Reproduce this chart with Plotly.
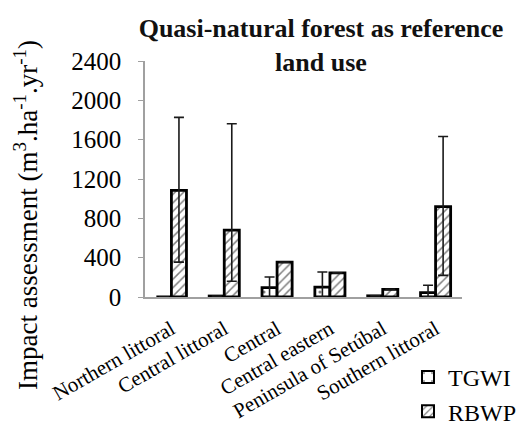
import plotly.graph_objects as go

# Regions (x categories)
regions = ["Northern littoral", "Central littoral", "Central", "Central eastern",
           "Peninsula of Setúbal", "Southern littoral"]

# TGWI impact and its error bounds
tgwi = [0, 10, 95, 100, 12, 45]
tgwi_err_plus = [0, 0, 108, 155, 0, 75]
tgwi_err_minus = [0, 0, 95, 100, 0, 45]

# RBWP impact and its error bounds
rbwp = [1085, 680, 355, 245, 78, 920]
rbwp_err_plus = [742, 1082, 0, 0, 0, 712]
rbwp_err_minus = [730, 520, 0, 0, 0, 700]

y_ticks = [0, 400, 800, 1200, 1600, 2000, 2400]
y_title = "Impact assessment (m<sup>3</sup>.ha<sup>-1</sup>.yr<sup>-1</sup>)"

FONT = "Liberation Serif, Times New Roman, serif"
W, H = 525, 425
L, R, T, B = 145, 63, 61, 128
PW, PH = W - L - R, H - T - B

fig = go.Figure()
fig.add_trace(go.Bar(
    name="TGWI", x=regions, y=tgwi,
    marker=dict(color="white", line=dict(color="black", width=2.8),
                pattern=dict(shape=".", size=14, solidity=0.04, fgcolor="black", bgcolor="white")),
    error_y=dict(type="data", symmetric=False, array=tgwi_err_plus, arrayminus=tgwi_err_minus,
                 color="#1a1a1a", thickness=1.6, width=5),
))
fig.add_trace(go.Bar(
    name="RBWP", x=regions, y=rbwp,
    marker=dict(color="white", line=dict(color="black", width=2.8),
                pattern=dict(shape="/", size=6, solidity=0.25, fgcolor="black", bgcolor="white")),
    error_y=dict(type="data", symmetric=False, array=rbwp_err_plus, arrayminus=rbwp_err_minus,
                 color="#1a1a1a", thickness=1.6, width=5),
))

# Vertical axis title, drawn as a rotated annotation so it can sit lower than the axis centre
fig.add_annotation(
    text=y_title, textangle=-90, showarrow=False,
    xref="paper", yref="paper",
    x=(26 - L) / PW, y=(H - B - 215) / PH,
    xanchor="center", yanchor="middle",
    font=dict(family=FONT, size=27, color="black"),
)

fig.update_layout(
    width=W, height=H,
    margin=dict(l=L, r=R, t=T, b=B, autoexpand=False),
    paper_bgcolor="white", plot_bgcolor="white",
    barmode="group", bargap=0.43, bargroupgap=0,
    font=dict(family=FONT, color="black", size=20),
    title=dict(text="<b>Quasi-natural forest as reference<br>land use</b>",
               x=321 / W, xanchor="center", xref="container",
               y=1 - 37 / H, yanchor="top", yref="container",
               font=dict(family=FONT, size=26, color="#111111")),
    showlegend=True,
    legend=dict(x=408 / W, xanchor="left", xref="container",
                y=1 - 355 / H, yanchor="top", yref="container",
                font=dict(family=FONT, size=24, color="black"),
                bgcolor="rgba(0,0,0,0)", itemsizing="constant",
                tracegroupgap=8),
    xaxis=dict(showline=True, linecolor="#a0a0a0", linewidth=1.5,
               ticks="", tickangle=-30, ticklabelstandoff=10,
               tickfont=dict(size=21, family=FONT, color="black"),
               showgrid=False),
    yaxis=dict(range=[0, 2400], tickvals=y_ticks, showline=True, linecolor="#a0a0a0",
               linewidth=1.5, ticks="outside", ticklen=5, tickcolor="#a0a0a0",
               ticklabelstandoff=12,
               tickfont=dict(size=25, family=FONT, color="black"), showgrid=False,
               zeroline=False),
)

fig.write_html("out.html")
